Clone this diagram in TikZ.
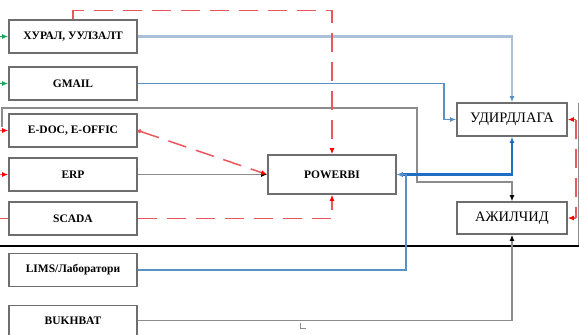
\documentclass[tikz,border=0pt]{standalone}
\usepackage{fontspec}
\setmainfont{Liberation Serif}
\usetikzlibrary{arrows.meta}

\definecolor{boxgray}{HTML}{6E6E6E}
\definecolor{linegray}{HTML}{8C8C8C}
\definecolor{paleblue}{HTML}{A9C0D8}
\definecolor{midblue}{HTML}{5A90C8}
\definecolor{deepblue}{HTML}{1E6FC3}
\definecolor{dashred}{HTML}{E8585C}
\definecolor{tipgreen}{HTML}{1FA65A}

\begin{document}
\begin{tikzpicture}[
      x=1pt, y=-1pt,
      sysbox/.style={draw=boxgray, line width=1.6pt, fill=white, minimum width=128pt,
        minimum height=33pt, inner sep=0pt, font=\bfseries\fontsize{11.5}{12}\selectfont},
      userbox/.style={draw=boxgray, line width=1.6pt, fill=white, minimum width=110pt,
        minimum height=33pt, inner sep=0pt, font=\fontsize{14.5}{15}\selectfont},
      feed/.style={draw=linegray, line width=1.4pt},
      reddash/.style={draw=dashred, line width=1.5pt, dash pattern=on 19pt off 10pt},
      blacktip/.style={>={Latex[length=6pt,width=5pt,color=black]}},
      redtip/.style={>={Latex[length=6pt,width=5pt,color=red]}},
      >={Latex[length=6pt,width=5pt]}
    ]
    \useasboundingbox (0,0) rectangle (579,335);

    %-----------------------------
    % 1) Source systems
    %-----------------------------
    \node[sysbox] (hural) at (73,36.5) {ХУРАЛ, УУЛЗАЛТ};
    \node[sysbox] (gmail) at (73,83.5) {GMAIL};
    \node[sysbox] (edoc)  at (73,130.5) {E-DOC, E-OFFIC};
    \node[sysbox] (erp)   at (73,174.5) {ERP};
    \node[sysbox] (scada) at (73,218.5) {SCADA};
    \node[sysbox] (lims)  at (73,270) {LIMS/Лаборатори};
    \begin{scope}
      \clip (0,0) rectangle (579,335);
      \node[sysbox, minimum height=36pt] (bukh) at (73,323.5) {};
    \end{scope}
    \node[font=\bfseries\fontsize{11.5}{12}\selectfont] (bukhtxt) at (73,320.5) {BUKHBAT};

    %-----------------------------
    % 2) Report and users
    %-----------------------------
    \node[sysbox, minimum height=39pt] (powerbi) at (332,174.5) {POWERBI};
    \node[userbox] (udir) at (512,119.5) {УДИРДЛАГА};
    \node[userbox, minimum height=32pt] (ajil) at (512,218) {АЖИЛЧИД};

    %-----------------------------
    % 3) Incoming ends at the page edges
    %-----------------------------
    \coordinate (in-hural) at (0,36.5);
    \coordinate (in-gmail) at (0,83.5);
    \coordinate (in-edoc)  at (0,130.5);
    \coordinate (in-erp)   at (0,174.5);
    \coordinate (in-scada) at (0,218.5);
    \coordinate (in-udir)  at (576,119.5);
    \coordinate (in-ajil)  at (576,218);
    \coordinate (grayfoot) at (2,127);
    \coordinate (frame-top) at (578.5,103);
    \coordinate (frame-bot) at (578.5,246);
    \coordinate (rule-l) at (0,246);
    \coordinate (rule-r) at (579,246);

    \foreach \n in {hural,gmail} {
      \draw[tipgreen, line width=1.4pt, ->] (in-\n) -- (\n.west);
    }
    \foreach \n in {edoc,erp} {
      \draw[dashred, line width=1.4pt, ->, redtip] (in-\n) -- (\n.west);
    }
    \draw[dashred, line width=1.4pt] (in-scada) -- (scada.west);

    %-----------------------------
    % 4) Feeds
    %-----------------------------
    % gray frame line and rule
    \draw[feed, ->, blacktip]
      (grayfoot) -- (2,108) -- (417,108) -- (417,182) -| (ajil.north);
    \draw[feed] (frame-top) -- (frame-bot);
    \draw[black, line width=1.1pt] (rule-l) -- (rule-r);

    % to the users
    \draw[paleblue, line width=2.2pt, ->, >={Latex[length=6pt,width=5pt,color=midblue]}]
      (hural.east) -| (udir.north);
    \draw[midblue, line width=1.4pt, ->] (gmail.east) -- ++(306,0) |- (udir.west);
    \draw[deepblue, line width=2.6pt, <->] (powerbi.east) -| (udir.south);
    \draw[feed, ->, blacktip] (bukh.east |- bukhtxt) -| (ajil.south);
    \draw[linegray, line width=1pt] (300,323) -- (300,328) -- (306,328);

    % to the report
    \draw[feed, ->, blacktip] (erp.east) -- (powerbi.west);
    \draw[midblue, line width=1.4pt, ->] (lims.east) -- ++(268,0) |- (powerbi.east);
    \draw[reddash, ->, redtip]
      (hural.north) -- ++(0,-8.5) -| (powerbi.north);
    \draw[reddash, {Circle[open,length=4pt]}->, redtip]
      (edoc.east) -- (powerbi.west);
    \draw[reddash, ->, redtip]
      (scada.east) -| (powerbi.south);

    % red feed on the right
    \draw[reddash] (in-udir) -- (in-ajil);
    \foreach \n in {udir,ajil} {
      \draw[dashred, line width=1.4pt, ->, redtip] (in-\n) -- (\n.east);
    }

  \end{tikzpicture}
\end{document}
